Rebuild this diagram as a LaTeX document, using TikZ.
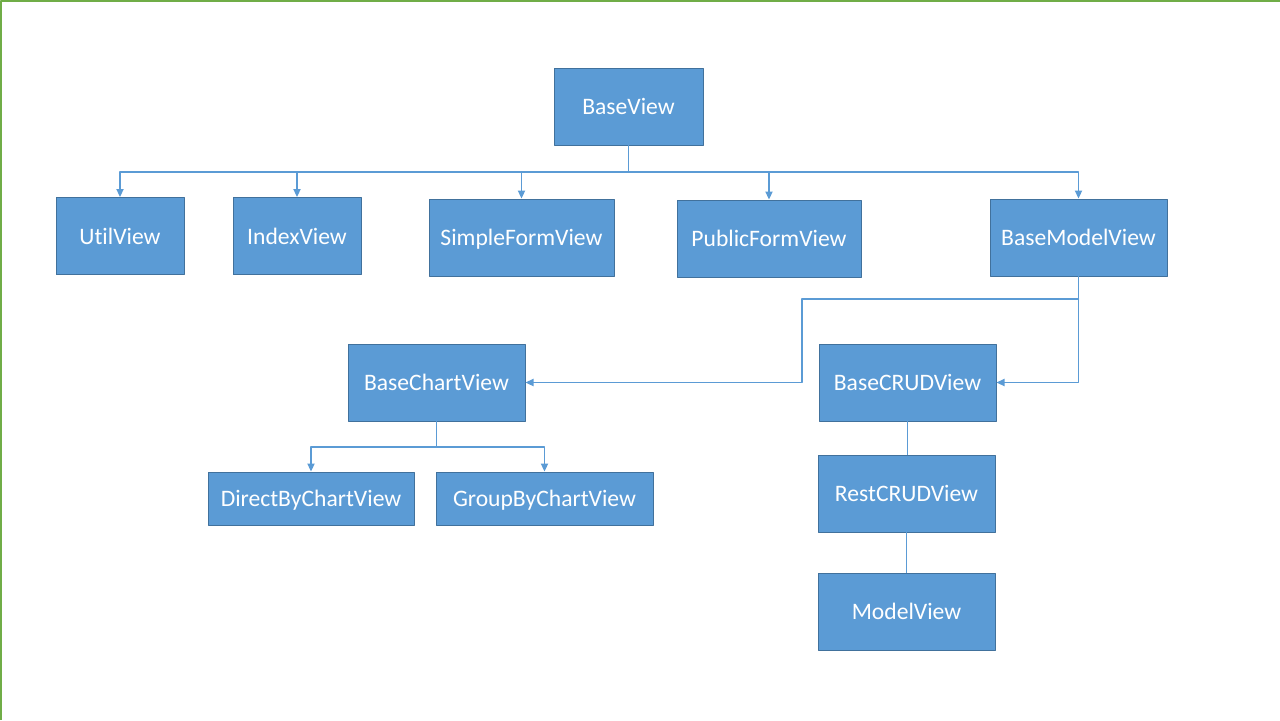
\documentclass[tikz,border=0pt]{standalone}
\usepackage{fontspec}
\setmainfont{Carlito}[Ligatures=NoCommon]
\usetikzlibrary{arrows.meta}

\definecolor{boxfill}{HTML}{5B9BD5}
\definecolor{boxedge}{HTML}{41719C}
\definecolor{frameline}{HTML}{70AD47}

\begin{document}
\begin{tikzpicture}[x=0.5pt,y=-0.5pt,line cap=round,line join=round,
  viewbox/.style={draw=boxedge,fill=boxfill,line width=0.5pt,inner sep=0pt,
    text=white,font=\fontsize{11.8}{14}\selectfont,minimum height=38.5pt,
    text height=9.8pt,text depth=1.6pt},
  link/.style={draw=boxfill,line width=0.7pt},
  arr/.style={link,-{Triangle[length=4pt,width=3.6pt]}}]
  \useasboundingbox (0,0) rectangle (1280,720);
  \draw[frameline,line width=1pt,line cap=butt] (1,720) -- (1,1) -- (1280,1);
  % boxes
  \node[viewbox,minimum width=74.5pt] (baseview) at (628.5,106.5) {BaseView};
  \node[viewbox,minimum width=64pt] (utilview) at (120,236) {UtilView};
  \node[viewbox,minimum width=64pt] (indexview) at (297,236) {IndexView};
  \node[viewbox,minimum width=92.5pt] (simpleform) at (521.5,237.5) {SimpleFormView};
  \node[viewbox,minimum width=92pt] (publicform) at (769,238.5) {PublicFormView};
  \node[viewbox,minimum width=88.5pt] (basemodel) at (1078.5,237.5) {BaseModelView};
  \node[viewbox,minimum width=88.5pt] (basechart) at (436.5,382.5) {BaseChartView};
  \node[viewbox,minimum width=88.5pt] (basecrud) at (907.5,382.5) {BaseCRUDView};
  \node[viewbox,minimum width=103pt,minimum height=26.5pt] (directchart) at (311,498.5) {DirectByChartView};
  \node[viewbox,minimum width=108.5pt,minimum height=26.5pt] (groupchart) at (544.5,498.5) {GroupByChartView};
  \node[viewbox,minimum width=88.5pt] (restcrud) at (906.5,493.5) {RestCRUDView};
  \node[viewbox,minimum width=88.5pt] (modelview) at (906.5,611.5) {ModelView};
  % connectors
  \coordinate (topbus) at (628.5,172);
  \foreach \child in {utilview,indexview,simpleform,publicform,basemodel}
    \draw[arr] (baseview.south) -- (topbus) -| (\child.north);
  \draw[arr] (basemodel.south) |- (basecrud.east);
  \coordinate (split) at (1078.5,299);
  \coordinate (bend) at (802,299);
  \draw[arr] (split) -- (bend) |- (basechart.east);
  \coordinate (chartbus) at (436.5,447);
  \foreach \child in {directchart,groupchart}
    \draw[arr] (basechart.south) -- (chartbus) -| (\child.north);
  \draw[link] (basecrud.south) -- (basecrud.south |- restcrud.north);
  \draw[link] (restcrud.south) -- (modelview.north);
\end{tikzpicture}
\end{document}
